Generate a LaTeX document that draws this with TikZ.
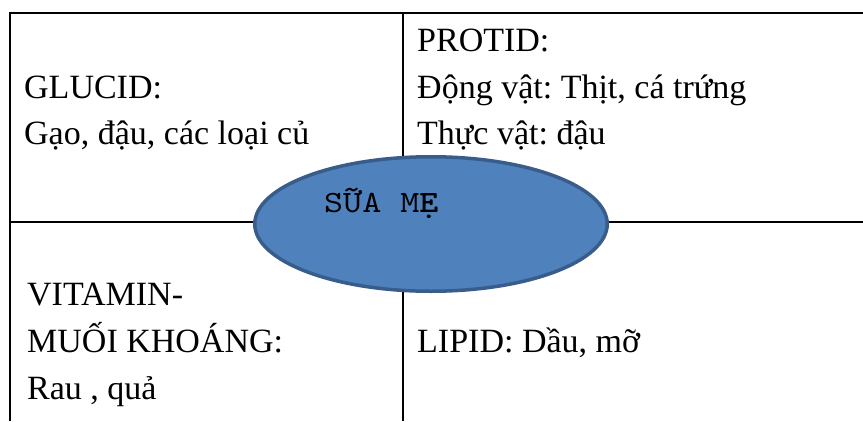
\documentclass[tikz,border=0pt]{standalone}
\usepackage{fontspec}
\setmainfont{Liberation Serif}
\newfontfamily\ovalfont[FakeStretch=1.17,BoldFont=lmmonolt10-bold.otf]{lmmono10-regular.otf}
\usetikzlibrary{shapes.geometric}
\definecolor{ovalfill}{HTML}{4F81BD}
\definecolor{ovalline}{HTML}{385D8A}
\tikzset{
  rule/.style={line width=2pt, black},
  cell/.style={anchor=base west, inner sep=0pt, font=\fontsize{34}{40}\selectfont\frenchspacing},
  oval/.style={ellipse, draw=ovalline, fill=ovalfill, line width=3.5pt, minimum width=352.5pt, minimum height=134.5pt, inner sep=0pt},
  ovaltext/.style={anchor=base west, inner sep=0pt, font=\fontsize{31}{36}\selectfont\ovalfont}
}
\begin{document}
\begin{tikzpicture}[x=1pt,y=-1pt]
\useasboundingbox (0,0) rectangle (863,421);
% table lines
\coordinate (tl) at (10,13);
\coordinate (tr) at (863,13);
\coordinate (bl) at (10,421);
\coordinate (tm) at (403,13);
\coordinate (bm) at (403,421);
\coordinate (ml) at (10,222);
\coordinate (mr) at (863,222);
\draw[rule] (bl) -- (tl) -- (tr);
\draw[rule] (tm) -- (bm);
\draw[rule] (ml) -- (mr);
% oval
\node[oval] (sua) at (431,224) {};
\node[ovaltext] (suatext) at (324,212) {SỮA M\textbf{Ẹ}};
% texts
\node[cell] (glucid) at (24,98) {GLUCID:};
\node[cell] (gao) at (24,144) {Gạo, đậu, các loại củ};
\node[cell] (protid) at (417,51) {PROTID:};
\node[cell] (dongvat) at (417,98) {Động vật: Thịt, cá trứng};
\node[cell] (thucvat) at (417,144) {Thực vật: đậu};
\node[cell] (vitamin) at (27,305) {VITAMIN-};
\node[cell] (muoi) at (27,352) {MUỐI KHOÁNG:};
\node[cell] (rau) at (27,399) {Rau , quả};
\node[cell] (lipid) at (417,352) {LIPID: Dầu, mỡ};
\end{tikzpicture}
\end{document}
